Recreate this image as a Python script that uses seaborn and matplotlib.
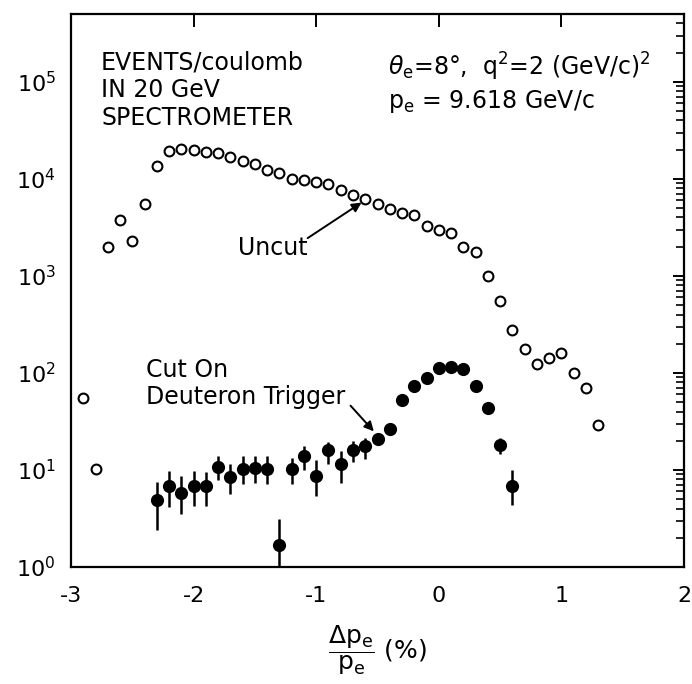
import numpy as np
import pandas as pd
import matplotlib
matplotlib.use("Agg")
import matplotlib.pyplot as plt
import seaborn as sns
from matplotlib.ticker import FixedLocator, FuncFormatter, LogLocator, NullFormatter

# ---------------- data ----------------
uncut_x = [-2.9, -2.8, -2.7, -2.6, -2.5, -2.4, -2.3, -2.2, -2.1, -2.0,
           -1.9, -1.8, -1.7, -1.6, -1.5, -1.4, -1.3, -1.2, -1.1, -1.0,
           -0.9, -0.8, -0.7, -0.6, -0.5, -0.4, -0.3, -0.2, -0.1, 0.0,
           0.1, 0.2, 0.3, 0.4, 0.5, 0.6, 0.7, 0.8, 0.9, 1.0,
           1.1, 1.2, 1.3]
uncut_y = [55, 10.2, 2000, 3800, 2300, 5500, 13500, 19500, 20500, 19800,
           19000, 18300, 16800, 15400, 14200, 12300, 11600, 9900, 9700, 9300,
           8800, 7600, 6800, 6200, 5500, 4900, 4500, 4200, 3300, 3000,
           2750, 2000, 1750, 1000, 550, 280, 178, 123, 143, 162,
           100, 70, 29]

cut_x = [-2.3, -2.2, -2.1, -2.0, -1.9, -1.8, -1.7, -1.6, -1.5, -1.4,
         -1.3, -1.2, -1.1, -1.0, -0.9, -0.8, -0.7, -0.6, -0.5, -0.4,
         -0.3, -0.2, -0.1, 0.0, 0.1, 0.2, 0.3, 0.4, 0.5, 0.6]
cut_y = [4.9, 6.9, 5.8, 6.9, 6.9, 10.7, 8.4, 10.3, 10.5, 10.3,
         1.7, 10.3, 13.9, 8.6, 16.1, 11.4, 16.1, 17.8, 21, 26.5,
         52, 73, 88, 113, 115, 111, 73, 43, 18.2, 6.9]
cut_lo = [2.4, 4.2, 3.5, 4.3, 4.3, 7.8, 5.6, 7.1, 7.4, 7.2,
          1.0, 7.1, 9.9, 5.4, 11.6, 7.3, 12.1, 13.1, 18.5, 23.5,
          48, 68, 82, 106, 108, 104, 68, 39, 14.6, 4.4]
cut_hi = [7.6, 9.8, 8.6, 9.7, 9.5, 13.9, 11.4, 13.9, 13.9, 13.9,
          3.1, 13.2, 17.8, 12.6, 19.2, 15.5, 19.9, 21.3, 23.8, 29.5,
          56, 78, 94, 120, 122, 118, 78, 47, 21.5, 10.0]

x_ticks = [-3, -2, -1, 0, 1, 2]
x_tick_labels = ["-3", "-2", "-1", "0", "1", "2"]
y_decades = [0, 1, 2, 3, 4, 5]

# ---------------- styling ----------------
sns.set_theme(style="white")
plt.rcParams["font.family"] = ["DejaVu Sans"]
plt.rcParams["mathtext.fontset"] = "dejavusans"
plt.rcParams["axes.unicode_minus"] = False

fig = plt.figure(figsize=(6.92, 6.84), dpi=100)
ax = fig.add_axes([71 / 692, 1 - 567 / 684, 613 / 692, 553 / 684])
ax.set_yscale("log")

uncut = pd.DataFrame({"x": uncut_x, "y": uncut_y})
cut = pd.DataFrame({"x": cut_x, "y": cut_y, "lo": cut_lo, "hi": cut_hi})

ax.errorbar(cut["x"], cut["y"],
            yerr=[cut["y"] - cut["lo"], cut["hi"] - cut["y"]],
            fmt="none", ecolor="black", elinewidth=1.8, capsize=0, zorder=2)
sns.scatterplot(data=cut, x="x", y="y", ax=ax, marker="o", s=90,
                color="black", edgecolor="black", linewidth=0, zorder=3)
sns.scatterplot(data=uncut, x="x", y="y", ax=ax, marker="o", s=50,
                color="white", edgecolor="black", linewidth=1.5, zorder=3)

ax.set_xlim(-3, 2)
ax.set_ylim(1, 5e5)
ax.set_xticks(x_ticks)
ax.set_xticklabels(x_tick_labels)
ax.yaxis.set_major_locator(FixedLocator([10.0 ** d for d in y_decades]))
ax.yaxis.set_major_formatter(FuncFormatter(lambda v, p: r"$10^{%d}$" % round(np.log10(v))))
ax.yaxis.set_minor_locator(LogLocator(base=10, subs=np.arange(2, 10), numticks=30))
ax.yaxis.set_minor_formatter(NullFormatter())

ax.tick_params(axis="both", which="both", direction="in", top=True, right=True,
               color="black", labelcolor="black")
ax.tick_params(axis="x", which="major", length=9, width=1.4, labelsize=16, pad=14)
ax.tick_params(axis="x", which="minor", bottom=False, top=False)
ax.tick_params(axis="y", which="major", length=8, width=1.4, labelsize=16, pad=11)
ax.tick_params(axis="y", which="minor", length=6, width=1.2)
for sp in ax.spines.values():
    sp.set_linewidth(1.6)
    sp.set_color("black")

ax.set_ylabel("")
ax.set_xlabel(r"$\dfrac{\Delta\mathrm{p_e}}{\mathrm{p_e}}$ (%)", fontsize=18,
              color="black", labelpad=12)

# ---------------- annotations ----------------
ax.text(0.049, 0.8626, "EVENTS/coulomb\nIN 20 GeV\nSPECTROMETER",
        transform=ax.transAxes, ha="left", va="center", fontsize=17,
        linespacing=1.2, color="black")
ax.text(0.517, 0.904, r"$\theta_\mathrm{e}$=8°,  q$^2$=2 (GeV/c)$^2$",
        transform=ax.transAxes, ha="left", va="center", fontsize=17, color="black")
ax.text(0.517, 0.841, r"p$_\mathrm{e}$ = 9.618 GeV/c",
        transform=ax.transAxes, ha="left", va="center", fontsize=17, color="black")

ax.text(-1.64, 1925, "Uncut", ha="left", va="center", fontsize=17, color="black")
ax.annotate("", xy=(-0.63, 5700), xytext=(-1.07, 2450),
            arrowprops=dict(arrowstyle="-|>", color="black", lw=1.4,
                            mutation_scale=14, shrinkA=0, shrinkB=0))

ax.text(-2.39, 78, "Cut On\nDeuteron Trigger", ha="left", va="center",
        fontsize=17, linespacing=1.2, color="black")
ax.annotate("", xy=(-0.53, 25), xytext=(-0.72, 46),
            arrowprops=dict(arrowstyle="-|>", color="black", lw=1.4,
                            mutation_scale=14, shrinkA=0, shrinkB=0))

fig.savefig("out.png", dpi=100, facecolor="white")
